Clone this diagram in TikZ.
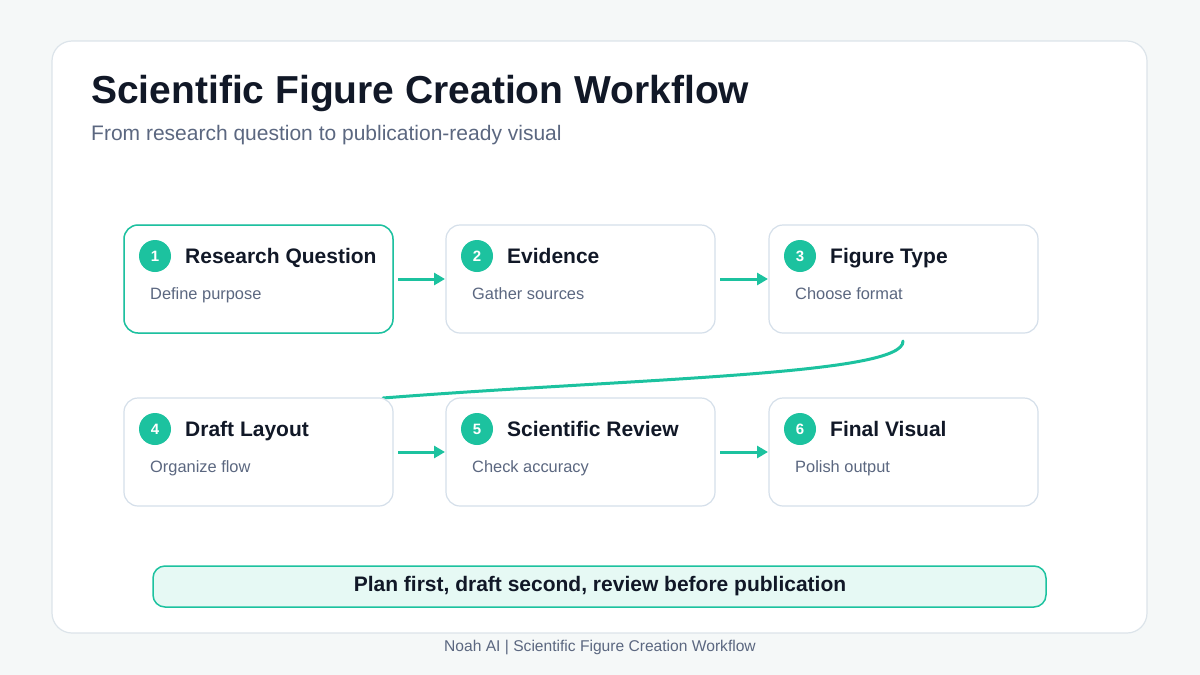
\documentclass[tikz,border=0pt]{standalone}
\usepackage{fontspec}
\setmainfont{Liberation Sans}
\usetikzlibrary{arrows.meta}
\definecolor{teal}{HTML}{1CC29F}
\definecolor{bgc}{HTML}{F5F8F8}
\definecolor{cardline}{HTML}{DCE4EA}
\definecolor{boxline}{HTML}{D5DFEA}
\definecolor{ink}{HTML}{111827}
\definecolor{sub}{HTML}{5B6780}
\definecolor{mint}{HTML}{E6F9F4}
\tikzset{
  stepbox/.style={draw=boxline, line width=1.2pt, rounded corners=14pt, fill=white},
  badge/.style={circle, fill=teal, minimum size=32pt, inner sep=0pt, text=white, font=\fontsize{15}{18}\selectfont\bfseries},
  steptitle/.style={anchor=base west, text=ink, font=\fontsize{21}{25}\selectfont\bfseries, inner sep=0pt},
  stepsub/.style={anchor=base west, text=sub, font=\fontsize{16.4}{19}\selectfont, inner sep=0pt},
  flow/.style={draw=teal, line width=3pt, -{Triangle[length=11pt,width=12pt]}},
}
\begin{document}
\begin{tikzpicture}[x=1pt,y=-1pt]
\useasboundingbox (0,0) rectangle (1200,675);
\fill[bgc] (0,0) rectangle (1200,675);
\draw[cardline, line width=1.2pt, fill=white, rounded corners=20pt] (52,41) rectangle (1147,633);
\node[anchor=base west, inner sep=0pt, text=ink, font=\fontsize{39}{45}\selectfont\bfseries] (title) at (91,103) {Scientific Figure Creation Workflow};
\node[anchor=base west, inner sep=0pt, text=sub, font=\fontsize{21}{25}\selectfont] (subtitle) at (91,140) {From research question to publication-ready visual};
% curve connector (drawn first so boxes sit above)
\coordinate (cstart) at (903,341);
\coordinate (cend) at (383,398);
\draw[teal, line width=3pt, line cap=round] (cstart) .. controls (905,375) and (640,378) .. (cend);
% boxes
\foreach \n/\x/\y/\t/\s in {1/124/225/Research Question/Define purpose, 2/446/225/Evidence/Gather sources, 3/769/225/Figure Type/Choose format, 4/124/398/Draft Layout/Organize flow, 5/446/398/Scientific Review/Check accuracy, 6/769/398/Final Visual/Polish output}{
  \path[stepbox] (\x,\y) rectangle ++(269,108);
  \coordinate (b\n w) at (\x,\y+54);
  \coordinate (b\n e) at (\x+269,\y+54);
  \node[badge] (n\n) at (\x+31,\y+31) {\n};
  \node[steptitle] (t\n) at (\x+61,\y+38) {\t};
  \node[stepsub] (s\n) at (\x+26,\y+74) {\s};
}
\draw[teal, line width=1.5pt, rounded corners=14pt] (124,225) rectangle ++(269,108);
\draw[flow] ([xshift=5pt]b1e) -- ([xshift=-1pt]b2w);
\draw[flow] ([xshift=5pt]b2e) -- ([xshift=-1pt]b3w);
\draw[flow] ([xshift=5pt]b4e) -- ([xshift=-1pt]b5w);
\draw[flow] ([xshift=5pt]b5e) -- ([xshift=-1pt]b6w);
% banner
\draw[teal, line width=1.5pt, fill=mint, rounded corners=12pt] (153,566) rectangle (1046,607);
\node[text=ink, font=\fontsize{21}{25}\selectfont\bfseries, inner sep=0pt] (banner) at (600,586) {Plan first, draft second, review before publication};
\node[text=sub, font=\fontsize{15.6}{18}\selectfont, inner sep=0pt] (footer) at (600,647) {Noah AI | Scientific Figure Creation Workflow};
\end{tikzpicture}
\end{document}
